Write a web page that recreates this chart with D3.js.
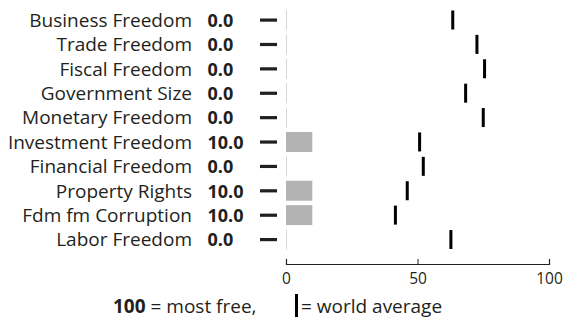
<!DOCTYPE html>
<html><head><meta charset="utf-8">
<script src="https://cdn.jsdelivr.net/npm/d3@7"></script>
<style>
html,body{margin:0;padding:0;background:#fff;}
svg{display:block;font-family:"Open Sans",sans-serif;}
</style></head>
<body><svg id="c" width="563" height="320"></svg>
<script>
const categories = ["Business Freedom","Trade Freedom","Fiscal Freedom","Government Size","Monetary Freedom","Investment Freedom","Financial Freedom","Property Rights","Fdm fm Corruption","Labor Freedom"];
const scores = [0,0,0,0,0,10,0,10,10,0];
const worldAverage = [63.4,72.6,75.5,68.3,75.0,50.8,52.2,46.1,41.6,62.7];
const tickValues = [0,50,100];

const svg = d3.select("#c");
const ink = "#231f20";
const x = d3.scaleLinear().domain([0,100]).range([286,549]);
const y = d3.scaleBand().domain(categories).range([7.8,251.7]).paddingInner(0.18).paddingOuter(0.09);
const bw = y.bandwidth();
const cy = d => y(d) + bw/2;

const rows = svg.append("g").selectAll("g").data(categories).join("g");

rows.append("text").attr("x",192).attr("y",d=>cy(d)+6.8)
  .attr("text-anchor","end").attr("font-size",19).attr("fill",ink).text(d=>d);
rows.append("text").attr("x",207.5).attr("y",(d)=>cy(d)+6.8)
  .attr("font-size",18).attr("font-weight","bold").attr("fill",ink)
  .text((d,i)=>d3.format(".1f")(scores[i]));
rows.append("rect").attr("x",260).attr("width",17).attr("y",d=>cy(d)-1.5).attr("height",3.2).attr("fill",ink);

// bars
rows.append("rect").attr("x",x(0)).attr("y",d=>y(d)).attr("height",bw)
  .attr("width",(d,i)=>Math.max(1,x(scores[i])-x(0)))
  .attr("fill",(d,i)=>scores[i]>0?"#b3b3b3":"#d6d6d6");

// world average markers
rows.append("rect").attr("x",(d,i)=>x(worldAverage[i])-1.5).attr("width",3)
  .attr("y",d=>y(d)+0.5).attr("height",bw-1).attr("fill","#000");

// axis
const axis = d3.axisBottom(x).tickValues(tickValues).tickSizeInner(-5).tickSizeOuter(-5).tickPadding(9);
const ag = svg.append("g").attr("transform","translate(0,264)").call(axis);
ag.select(".domain").attr("stroke",ink).attr("stroke-width",1.2);
ag.selectAll(".tick line").attr("stroke",ink);
ag.selectAll(".tick text").attr("font-size",15.5).attr("fill",ink).attr("font-family","Open Sans");

// legend
const lg = svg.append("text").attr("x",113).attr("y",313).attr("font-size",19).attr("fill",ink);
lg.append("tspan").attr("font-weight","bold").text("100");
lg.append("tspan").text(" = most free,");
svg.append("rect").attr("x",295).attr("y",294).attr("width",3).attr("height",23).attr("fill","#000");
svg.append("text").attr("x",301).attr("y",313).attr("font-size",19).attr("fill",ink).text("= world average");
</script></body></html>
